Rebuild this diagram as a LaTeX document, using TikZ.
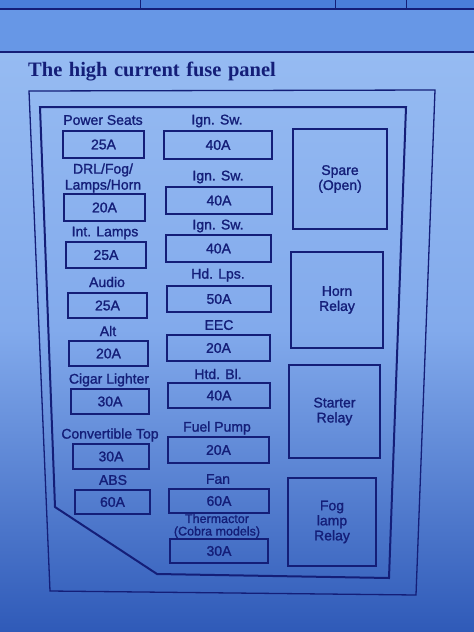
\documentclass[tikz,border=0pt]{standalone}
\usepackage{fontspec}
\setmainfont{Liberation Sans}
\newfontfamily\lblfont{Liberation Sans}[FakeBold=1.3]
\newfontfamily\titlefont{Liberation Serif}
\begin{document}
\begin{tikzpicture}[x=1pt,y=-1pt]
\definecolor{ink}{HTML}{141E78}
\definecolor{bandA}{HTML}{4A7FDA}
\definecolor{bandB}{HTML}{6797E6}
\definecolor{bgtop}{HTML}{96BBF2}
\definecolor{bgmid}{HTML}{82AAEC}
\definecolor{bgbot}{HTML}{2F5AB8}
\tikzset{
  fuse/.style={draw=ink, line width=2.2pt, inner sep=0pt, text=ink, font=\lblfont\fontsize{14}{16}\selectfont},
  lbl/.style={text=ink, font=\lblfont\fontsize{14}{16}\selectfont, inner sep=0pt, align=center},
  relay/.style={draw=ink, line width=2.2pt, inner sep=0pt, text=ink, align=center, font=\lblfont\fontsize{14}{15}\selectfont},
  frame/.style={draw=ink, line join=miter}
}
\useasboundingbox (0pt,0pt) rectangle (474pt,-632pt);
% background
\fill[bandA] (0pt,0pt) rectangle (474pt,-9pt);
\fill[bandB] (0pt,-9pt) rectangle (474pt,-52pt);
\shade[top color=bgtop, bottom color=bgmid] (0pt,-52pt) rectangle (474pt,-330pt);
\shade[top color=bgmid, bottom color=bgbot] (0pt,-330pt) rectangle (474pt,-632pt);
% header lines
\draw[ink, line width=0.8pt] (140,0) -- (140,9) (335,0) -- (335,9) (406,0) -- (406,9);
\draw[ink, line width=2pt] (0,9) -- (474,9);
\draw[ink, line width=1.2pt] (0,52) -- (474,52);
% title
\node[anchor=base west, inner sep=0pt, text=ink] (title) at (28,76)
  {\titlefont\bfseries\fontsize{20.5}{24}\selectfont\spaceskip=6.5pt The high current fuse panel};
% frames
\draw[frame, line width=1.3pt] (29,91) -- (435,90) -- (416,595) -- (50,591) -- cycle;
\draw[frame, line width=2pt] (40,107) -- (406,107) -- (389,578) -- (157,574) -- (55,507) -- cycle;
% left column
\node[lbl] (l1) at (103,120) {Power Seats};
\node[fuse, minimum width=81pt, minimum height=27pt] (f1) at (103.5,144.5) {25A};
\node[lbl] (l2) at (103,178) {DRL/Fog/\\Lamps/Horn};
\node[fuse, minimum width=81pt, minimum height=27pt] (f2) at (104.5,207.5) {20A};
\node[lbl] (l3) at (105,233) {Int. Lamps};
\node[fuse, minimum width=80pt, minimum height=26pt] (f3) at (106,255) {25A};
\node[lbl] (l4) at (107,282) {Audio};
\node[fuse, minimum width=79pt, minimum height=25pt] (f4) at (107.5,305.5) {25A};
\node[lbl] (l5) at (108,331) {Alt};
\node[fuse, minimum width=79pt, minimum height=25pt] (f5) at (108.5,353.5) {20A};
\node[lbl] (l6) at (109,380) {Cigar Lighter};
\node[fuse, minimum width=78pt, minimum height=25pt] (f6) at (110,401.5) {30A};
\node[lbl] (l7) at (110,435) {Convertible Top};
\node[fuse, minimum width=76pt, minimum height=25pt] (f7) at (111,456.5) {30A};
\node[lbl] (l8) at (113,480) {ABS};
\node[fuse, minimum width=75pt, minimum height=24pt] (f8) at (112.5,502) {60A};
% middle column
\node[lbl] (m1) at (217,121) {Ign. Sw.};
\node[fuse, minimum width=108pt, minimum height=28pt] (g1) at (218,145) {40A};
\node[lbl] (m2) at (218,177) {Ign. Sw.};
\node[fuse, minimum width=106pt, minimum height=27pt] (g2) at (219,200.5) {40A};
\node[lbl] (m3) at (218,226) {Ign. Sw.};
\node[fuse, minimum width=105pt, minimum height=27pt] (g3) at (218.5,248.5) {40A};
\node[lbl] (m4) at (218,275) {Hd. Lps.};
\node[fuse, minimum width=104pt, minimum height=26pt] (g4) at (219,299) {50A};
\node[lbl] (m5) at (219,325) {EEC};
\node[fuse, minimum width=103pt, minimum height=26pt] (g5) at (218.5,348) {20A};
\node[lbl] (m6) at (218,374) {Htd. Bl.};
\node[fuse, minimum width=102pt, minimum height=25pt] (g6) at (219,395.5) {40A};
\node[lbl] (m7) at (217,428) {Fuel Pump};
\node[fuse, minimum width=101pt, minimum height=26pt] (g7) at (218.5,450) {20A};
\node[lbl] (m8) at (218,479) {Fan};
\node[fuse, minimum width=100pt, minimum height=24pt] (g8) at (219,501) {60A};
\node[lbl, font=\lblfont\fontsize{12.5}{12.5}\selectfont] (m9) at (217,526) {Thermactor\\(Cobra models)};
\node[fuse, minimum width=98pt, minimum height=24pt] (g9) at (219,551) {30A};
% relays
\node[relay, minimum width=94pt, minimum height=100pt] (r1) at (340,179) {Spare\\(Open)};
\node[relay, minimum width=92pt, minimum height=96pt] (r2) at (337,300) {Horn\\Relay};
\node[relay, minimum width=91pt, minimum height=93pt] (r3) at (334.5,411.5) {Starter\\Relay};
\node[relay, minimum width=88pt, minimum height=88pt] (r4) at (332,522) {Fog\\lamp\\Relay};
\end{tikzpicture}
\end{document}
